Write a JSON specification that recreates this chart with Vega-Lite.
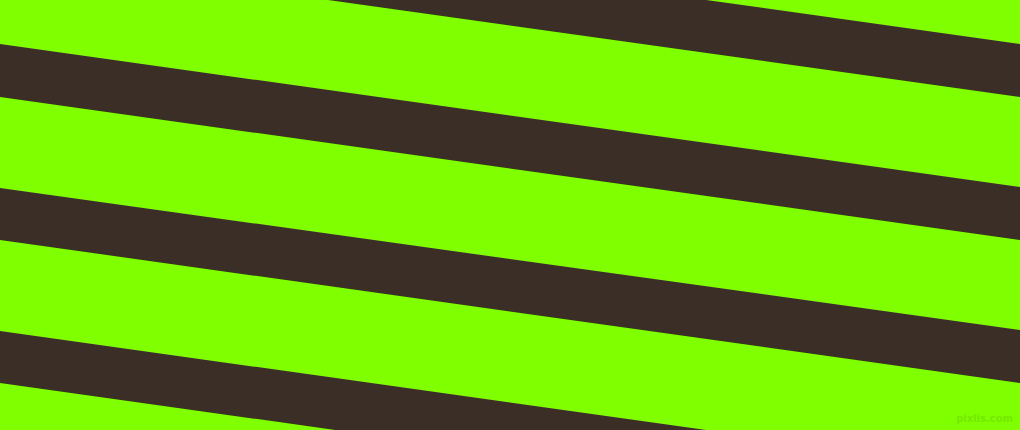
{
  "$schema": "https://vega.github.io/schema/vega-lite/v6.json",
  "width": 1020,
  "height": 430,
  "padding": 0,
  "autosize": {"type": "fit", "contains": "padding"},
  "background": "#7fff00",
  "config": {"view": {"stroke": null}},
  "layer": [
    {
      "data": {"values": [
        {"stripe": 1, "x": 0, "y": -99, "y2": -46},
        {"stripe": 1, "x": 1020, "y": 44, "y2": 97},
        {"stripe": 2, "x": 0, "y": 44, "y2": 97},
        {"stripe": 2, "x": 1020, "y": 187, "y2": 240},
        {"stripe": 3, "x": 0, "y": 188, "y2": 240},
        {"stripe": 3, "x": 1020, "y": 330, "y2": 383},
        {"stripe": 4, "x": 0, "y": 331, "y2": 383},
        {"stripe": 4, "x": 1020, "y": 474, "y2": 526}
      ]},
      "mark": {"type": "area", "color": "#3b2e26", "clip": true},
      "encoding": {
        "x": {"field": "x", "type": "quantitative", "scale": {"domain": [0, 1020], "nice": false, "zero": false}, "axis": null},
        "y": {"field": "y", "type": "quantitative", "scale": {"domain": [0, 430], "nice": false, "zero": false, "reverse": true}, "axis": null},
        "y2": {"field": "y2"},
        "detail": {"field": "stripe", "type": "nominal"}
      }
    },
    {
      "data": {"values": [{"label": "pixlis.com", "x": 1013, "y": 419}]},
      "mark": {"type": "text", "color": "#74ea00", "font": "DejaVu Sans", "fontSize": 10, "fontWeight": "bold", "align": "right", "baseline": "middle"},
      "encoding": {
        "x": {"field": "x", "type": "quantitative", "axis": null},
        "y": {"field": "y", "type": "quantitative", "axis": null},
        "text": {"field": "label", "type": "nominal"}
      }
    }
  ]
}
